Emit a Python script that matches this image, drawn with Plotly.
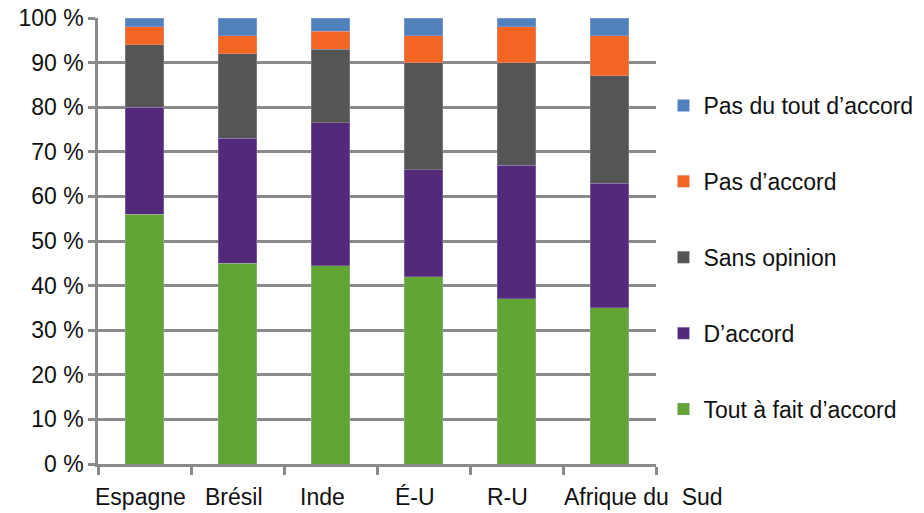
import plotly.graph_objects as go

categories = ["Espagne", "Brésil", "Inde", "É-U", "R-U", "Afrique du  Sud"]
series_names = ["Tout à fait d’accord", "D’accord", "Sans opinion", "Pas d’accord", "Pas du tout d’accord"]
tout_a_fait = [56, 45, 44.5, 42, 37, 35]
d_accord = [24, 28, 32, 24, 30, 28]
sans_opinion = [14, 19, 16.5, 24, 23, 24]
pas_d_accord = [4, 4, 4, 6, 8, 9]
pas_du_tout = [2, 4, 3, 4, 2, 4]
y_ticks = [0, 10, 20, 30, 40, 50, 60, 70, 80, 90, 100]

values = [tout_a_fait, d_accord, sans_opinion, pas_d_accord, pas_du_tout]
colors = ["#62A535", "#532A7A", "#555555", "#F26522", "#4F81BD"]
label_shifts = [-4, -4, -8, -9, -9, 34]

FONT = "Liberation Sans, Arial, sans-serif"
GRID = "#8a8a8a"
FS = 23

fig = go.Figure()
for i, (name, vals, col) in enumerate(zip(series_names, values, colors)):
    fig.add_trace(go.Bar(
        x=categories, y=vals, name=name, legendgroup=name, legendrank=1000 - i,
        marker=dict(color=col, line=dict(color="rgba(200,190,230,0.6)", width=0.5)),
    ))

for cat, sh in zip(categories, label_shifts):
    fig.add_annotation(x=cat, y=0, xref="x", yref="y", yanchor="top", yshift=-18,
                       xshift=sh, text=cat, showarrow=False,
                       font=dict(family=FONT, size=FS, color="#111"))

fig.update_layout(
    width=916, height=505,
    barmode="stack", bargap=0.59,
    plot_bgcolor="white", paper_bgcolor="white",
    margin=dict(l=90, r=268, t=10, b=49, autoexpand=False),
    font=dict(family=FONT, size=FS, color="#111"),
    showlegend=True,
    legend=dict(traceorder="grouped", tracegroupgap=43, x=1.0134, xanchor="left",
                y=0.852, yanchor="top", font=dict(family=FONT, size=FS, color="#111"),
                itemwidth=30, bgcolor="rgba(0,0,0,0)"),
)
fig.update_xaxes(range=[-0.5, 5.5], showticklabels=False, ticks="outside", tickson="boundaries",
                 ticklen=8, tickwidth=2.5, tickcolor=GRID, showline=True, linecolor=GRID,
                 linewidth=2.5, showgrid=False, automargin=False)
fig.update_yaxes(range=[0, 100], tickvals=y_ticks, ticktext=[f"{v} %" for v in y_ticks],
                 ticks="outside", ticklen=7, tickwidth=2.5, tickcolor=GRID, showline=True,
                 linecolor=GRID, linewidth=2.5, showgrid=True, gridcolor=GRID, gridwidth=2.5,
                 zeroline=False, automargin=False, ticklabeloverflow="allow",
                 tickfont=dict(family=FONT, size=FS, color="#111"))

fig.write_html("out.html")
